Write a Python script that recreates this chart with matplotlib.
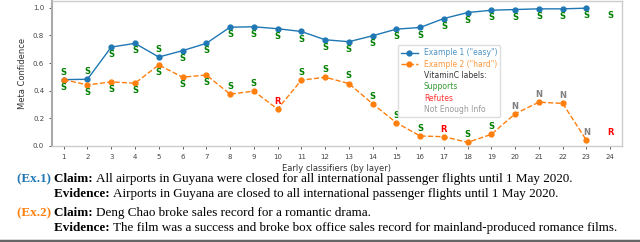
import numpy as np
import matplotlib
matplotlib.use("Agg")
import matplotlib.pyplot as plt
from matplotlib.lines import Line2D

# layers of the early classifiers
layers = list(range(1, 25))

# meta confidence per layer (layer 24 has no point)
easy_conf = [0.48, 0.483, 0.716, 0.743, 0.644, 0.69, 0.743, 0.86, 0.863, 0.849,
             0.829, 0.769, 0.755, 0.798, 0.846, 0.858, 0.923, 0.966, 0.983, 0.988,
             0.993, 0.993, 0.998]
hard_conf = [0.48, 0.442, 0.464, 0.454, 0.587, 0.498, 0.514, 0.375, 0.397, 0.267,
             0.476, 0.498, 0.452, 0.305, 0.168, 0.072, 0.067, 0.026, 0.084, 0.233,
             0.317, 0.308, 0.041]

# predicted VitaminC label per layer
easy_labels = ['S'] * 24
hard_labels = ['S', 'S', 'S', 'S', 'S', 'S', 'S', 'S', 'S', 'R', 'S', 'S', 'S',
               'S', 'S', 'S', 'R', 'S', 'S', 'N', 'N', 'N', 'N', 'R']

# which side of the point the letter sits (+1 above, -1 below)
easy_side = [1, 1, -1, -1, 1] + [-1] * 19
hard_side = [-1] * 7 + [1] * 17

label_colors = {'S': 'green', 'R': 'red', 'N': 'gray'}
blue = '#1f77b4'
orange = '#ff7f0e'

fig = plt.figure(figsize=(6.4, 2.42), dpi=100)
ax = fig.add_axes([0.081, 0.397, 0.891, 0.599])

ax.plot(layers[:len(easy_conf)], easy_conf, '-o', color=blue, lw=1, ms=3.5,
        label='Example 1 ("easy")')
ax.plot(layers[:len(hard_conf)], hard_conf, '--o', color=orange, lw=1, ms=3.5,
        label='Example 2 ("hard")')

off = 0.055
for conf, labs, side in [(easy_conf, easy_labels, easy_side),
                         (hard_conf, hard_labels, hard_side)]:
    ys = conf + [conf[-1]] * (len(layers) - len(conf))
    for i, x in enumerate(layers):
        sides = side[i] if i < len(conf) else side[len(conf) - 1]
        ax.text(x, ys[i] + sides * off, labs[i], ha='center', va='center',
                fontsize=6, fontweight='bold', color=label_colors[labs[i]])

ax.set_xlim(0.5, 24.5)
ax.set_ylim(0, 1.05)
ax.set_xticks(layers)
ax.set_yticks([0, 0.2, 0.4, 0.6, 0.8, 1.0])
ax.tick_params(labelsize=5, colors='#444444', length=2, width=0.6)
for s in ax.spines.values():
    s.set_color('#cccccc')
    s.set_linewidth(1)
ax.spines['left'].set_color('#aaaaaa')
ax.spines['left'].set_linewidth(1.5)
ax.set_xlabel('Early classifiers (by layer)', fontsize=6, color='#333333', labelpad=3)
ax.set_ylabel('Meta Confidence', fontsize=6, color='#333333', labelpad=4)

handles = [Line2D([], [], color=blue, marker='o', ms=3.5, lw=1),
           Line2D([], [], color=orange, marker='o', ms=3.5, lw=1, ls='--'),
           Line2D([], [], ls='none'), Line2D([], [], ls='none'),
           Line2D([], [], ls='none'), Line2D([], [], ls='none')]
names = ['Example 1 ("easy")', 'Example 2 ("hard")', 'VitaminC labels:',
         'Supports', 'Refutes', 'Not Enough Info']
leg = ax.legend(handles, names, loc='upper left', bbox_to_anchor=(0.6, 0.72),
                fontsize=5.5, labelspacing=0.3, handlelength=2.2,
                framealpha=1, edgecolor='#dddddd', borderpad=0.4)
for t, c in zip(leg.get_texts(), [blue, orange, 'black', 'green', 'red', 'gray']):
    t.set_color(c)
    t.set_alpha(0.8)

# example text underneath the chart
serif = 'Liberation Serif'
fs = 9.45
rows = [
    (0.260, '(Ex.1) ', blue, 'Claim: ',
     'All airports in Guyana were closed for all international passenger flights until 1 May 2020.'),
    (0.200, None, None, 'Evidence: ',
     'Airports in Guyana are closed to all international passenger flights until 1 May 2020.'),
    (0.118, '(Ex.2) ', orange, 'Claim: ',
     'Deng Chao broke sales record for a romantic drama.'),
    (0.058, None, None, 'Evidence: ',
     'The film was a success and broke box office sales record for mainland-produced romance films.'),
]
for y, tag, col, head, body in rows:
    if tag:
        fig.text(0.027, y, tag, fontsize=fs, family=serif, fontweight='bold',
                 color=col, va='center')
    h = fig.text(0.084, y, head, fontsize=fs, family=serif, fontweight='bold',
                 va='center')
    ax.annotate(body, xy=(1, 0.5), xycoords=h, va='center', ha='left',
                fontsize=fs, family=serif, annotation_clip=False)

fig.add_artist(Line2D([0, 1], [0.004, 0.004], color='#666666', lw=2.5,
                      transform=fig.transFigure))

fig.savefig('out.png', dpi=100)
